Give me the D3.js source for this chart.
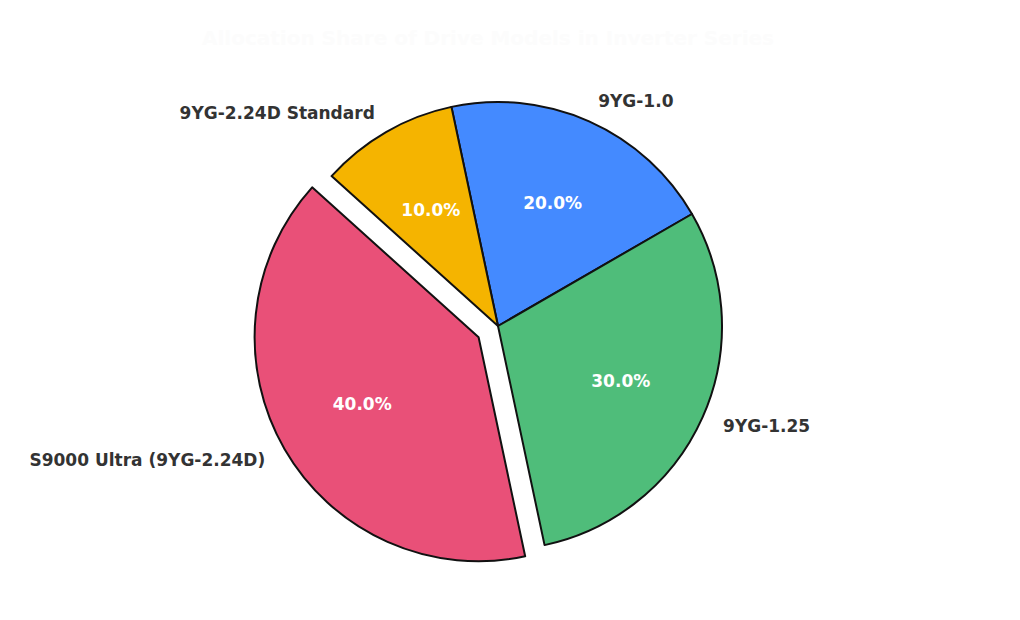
<!DOCTYPE html>
<html><head><meta charset="utf-8">
<script src="https://cdn.jsdelivr.net/npm/d3@7"></script>
<style>body{margin:0;background:#fff}svg{font-family:"DejaVu Sans",sans-serif}</style>
</head><body>
<svg id="chart" width="1020" height="620"></svg>
<script>
const labels = ['9YG-1.0', '9YG-1.25', 'S9000 Ultra (9YG-2.24D)', '9YG-2.24D Standard'];
const values = [20, 30, 40, 10];
const colors = ['#448aff', '#4fbd7a', '#e95078', '#f5b400'];
const explode = [0, 0, 0.1, 0];

const svg = d3.select('#chart');
const cx = 498, cy = 326, r = 224;
const start = -12 * Math.PI / 180;

svg.append('text').attr('x', 488).attr('y', 45).attr('text-anchor', 'middle')
  .attr('font-size', 20).attr('font-weight', 'bold').attr('fill', '#fcfcfc')
  .text('Allocation Share of Drive Models in Inverter Series');

const pie = d3.pie().sort(null).value(d => d)
  .startAngle(start).endAngle(start + 2 * Math.PI);
const arcs = pie(values);
const arc = d3.arc().innerRadius(0).outerRadius(r);
const g = svg.append('g').attr('transform', `translate(${cx},${cy})`);

const pt = (a, rad) => [Math.sin(a) * rad, -Math.cos(a) * rad];

arcs.forEach((d, i) => {
  const mid = (d.startAngle + d.endAngle) / 2;
  const [ox, oy] = pt(mid, explode[i] * r);
  const s = g.append('g').attr('transform', `translate(${ox},${oy})`);
  s.append('path').attr('d', arc(d)).attr('fill', colors[i])
    .attr('stroke', '#111').attr('stroke-width', 2).attr('stroke-linejoin', 'round');
  const [px, py] = pt(mid, r * 0.6);
  s.append('text').attr('x', px).attr('y', py).attr('dy', '0.35em')
    .attr('text-anchor', 'middle').attr('fill', '#fff').attr('font-size', 17)
    .attr('font-weight', 'bold').text(d.value.toFixed(1) + '%');
  const [lx, ly] = pt(mid, r * 1.1);
  s.append('text').attr('x', lx).attr('y', ly).attr('dy', '0.35em')
    .attr('text-anchor', lx > 0 ? 'start' : 'end').attr('fill', '#333').attr('font-size', 17)
    .attr('font-weight', 'bold').text(labels[i]);
});
</script>
</body></html>
